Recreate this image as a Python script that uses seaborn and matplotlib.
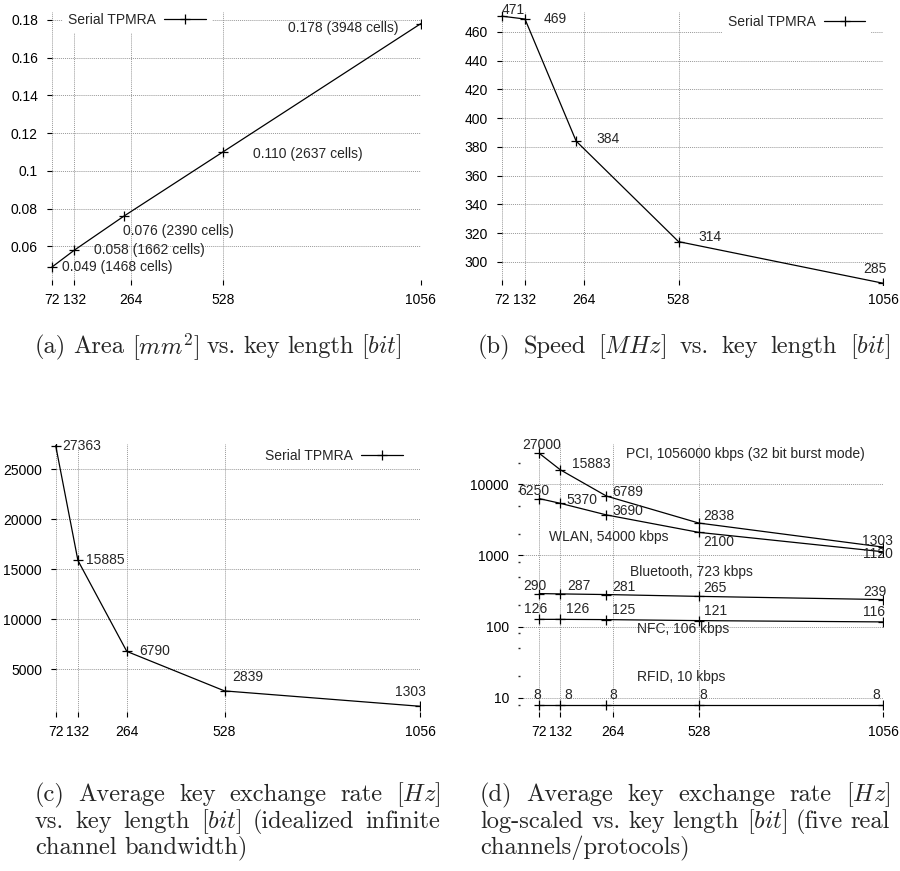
import matplotlib
matplotlib.use('Agg')
import matplotlib.pyplot as plt
import seaborn as sns
import numpy as np
from matplotlib.ticker import LogLocator, NullFormatter

key_len = [72, 132, 264, 528, 1056]
tick_lab = ['72', '132', '264', '528', '1056']
tick_pos = [72, 132, 284, 528, 1056]      # the "264" grid line is drawn off the point in a, b, d
tick_pos_c = [72, 132, 264, 528, 1056]

area = [0.049, 0.058, 0.076, 0.110, 0.178]
cells = [1468, 1662, 2390, 2637, 3948]
speed = [471, 469, 384, 314, 285]
rate = [27363, 15885, 6790, 2839, 1303]

pci = [27000, 15883, 6789, 2838, 1303]
wlan = [6250, 5370, 3690, 2100, 1120]
bluetooth = [290, 287, 281, 265, 239]
nfc = [126, 126, 125, 121, 116]
rfid = [8, 8, 8, 8, 8]
channel_names = ['PCI, 1056000 kbps (32 bit burst mode)', 'WLAN, 54000 kbps',
                 'Bluetooth, 723 kbps', 'NFC, 106 kbps', 'RFID, 10 kbps']

sns.set_style('white')
plt.rcParams['font.family'] = ['Liberation Sans', 'DejaVu Sans']
plt.rcParams['mathtext.fontset'] = 'cm'

W, H = 900, 871
FS = 10
CAP = 17.6
fig = plt.figure(figsize=(9, 8.71), dpi=100)
fig.patch.set_facecolor('white')


def add_axes(l, r, t, b):
    return fig.add_axes([l / W, 1 - b / H, (r - l) / W, (b - t) / H])


def style(ax, xticks, xlim, ylim):
    ax.set_xlim(xlim)
    ax.set_ylim(ylim)
    for s in ax.spines.values():
        s.set_visible(False)
    ax.set_xticks(xticks, tick_lab)
    ax.tick_params(direction='in', length=3.6, width=0.8, labelsize=FS, colors='black',
                   bottom=True, left=True)
    ax.tick_params(axis='x', pad=5.8)
    ax.tick_params(axis='y', pad=6.5)
    ax.grid(True, which='major', color='#999999', linestyle=(0, (1, 1)), linewidth=0.7)
    ax.set_xlabel('')
    ax.set_ylabel('')


def draw(ax, y, label=None):
    sns.lineplot(x=key_len, y=y, ax=ax, color='black', lw=0.9, marker='+', markersize=6.5,
                 markeredgecolor='black', markeredgewidth=0.9, label=label, legend=False)


def legend(ax, loc, anchor):
    ax.legend(loc=loc, bbox_to_anchor=anchor, frameon=True, fancybox=False, edgecolor='none',
              facecolor='white', framealpha=1, fontsize=FS, markerfirst=False, handlelength=3.0,
              handletextpad=0.6, borderpad=0.4, borderaxespad=0)


def label_points(ax, ys, texts, offsets, has):
    for x, y, t, (dx, dy), h in zip(key_len, ys, texts, offsets, has):
        ax.annotate(t, (x, y), xytext=(dx, dy), textcoords='offset pixels', ha=h, va='center',
                    fontsize=FS)


# (a) area
ax = add_axes(47, 420.7, 12, 285)
draw(ax, area, 'Serial TPMRA')
style(ax, tick_pos, (59.5, 1056), (0.0396, 0.1842))
ax.set_yticks([0.06, 0.08, 0.1, 0.12, 0.14, 0.16, 0.18],
              ['0.06', '0.08', '0.1', '0.12', '0.14', '0.16', '0.18'])
label_points(ax, area, ['%.3f (%d cells)' % (a, c) for a, c in zip(area, cells)],
             [(10, 0), (20, 0), (-1, -15), (30, -2), (-22, -4)],
             ['left', 'left', 'left', 'left', 'right'])
legend(ax, 'center left', (0.042, 0.9707))

# (b) speed
ax = add_axes(497, 883.3, 12, 285)
draw(ax, speed, 'Serial TPMRA')
style(ax, tick_pos, (59.9, 1056), (283.8, 473.9))
ax.set_yticks(np.arange(300, 461, 20))
label_points(ax, speed, [str(v) for v in speed],
             [(0, 6), (19, 0), (20, 2), (20, 5), (3, 14)],
             ['left', 'left', 'left', 'left', 'right'])
legend(ax, 'center right', (0.968, 0.9645))

# (c) exchange rate
ax = add_axes(51, 420, 444, 717)
draw(ax, rate, 'Serial TPMRA')
style(ax, tick_pos_c, (59.3, 1056), (230, 27530))
ax.set_yticks([5000, 10000, 15000, 20000, 25000])
label_points(ax, rate, [str(v) for v in rate],
             [(7, 0), (8, 0), (12, 0), (8, 14), (6, 14)],
             ['left', 'left', 'left', 'left', 'right'])
legend(ax, 'center right', (0.968, 0.956))

# (d) log-scaled, five channels
ax = add_axes(518, 883.3, 444, 717)
ax.set_yscale('log')
for ys in [pci, wlan, bluetooth, nfc, rfid]:
    draw(ax, ys)
style(ax, tick_pos, (11, 1056), (5.36, 36560))
ax.set_yticks([10, 100, 1000, 10000], ['10', '100', '1000', '10000'])
ax.yaxis.set_minor_locator(LogLocator(base=10, subs=(2, 5, 8)))
ax.yaxis.set_minor_formatter(NullFormatter())
ax.tick_params(axis='y', which='minor', direction='in', length=1.2, width=1, left=True)
ax.tick_params(axis='x', which='minor', bottom=False)
label_points(ax, pci, [str(v) for v in pci],
             [(-17, 8), (12, 6), (6, 4), (5, 7), (10, 6)],
             ['left', 'left', 'left', 'left', 'right'])
label_points(ax, wlan, [str(v) for v in wlan],
             [(-21, 8), (6, 3), (6, 4), (5, -10), (10, -2)],
             ['left', 'left', 'left', 'left', 'right'])
label_points(ax, bluetooth, [str(v) for v in bluetooth],
             [(-16, 8), (7, 8), (6, 8), (5, 8), (3, 8)],
             ['left', 'left', 'left', 'left', 'right'])
label_points(ax, nfc, [str(v) for v in nfc],
             [(-15, 10), (6, 10), (6, 10), (5, 10), (2, 10)],
             ['left', 'left', 'left', 'left', 'right'])
label_points(ax, rfid, [str(v) for v in rfid],
             [(-2, 10), (8, 10), (7, 10), (5, 10), (-7, 10)],
             ['center'] * 5)
for name, (tx, ty) in zip(channel_names, [(320, 26500), (100, 1807), (331, 589), (350, 92), (350, 19.7)]):
    ax.text(tx, ty, name, fontsize=FS, ha='left', va='center')

# captions
renderer = fig.canvas.get_renderer()


def caption_line(words, x0, y, x1=None):
    texts = [fig.text(0, 1 - y / H, w, family='cmr10', fontsize=CAP, va='center') for w in words]
    widths = [t.get_window_extent(renderer).width for t in texts]
    if x1 is None:
        gap = CAP * 100 / 72 * 0.3
    else:
        gap = (x1 - x0 - sum(widths)) / (len(words) - 1)
    x = x0
    for t, w in zip(texts, widths):
        t.set_x(x / W)
        x += w + gap


caption_line(['(a)', 'Area', r'$[mm^2]$', 'vs.', 'key', 'length', r'$[bit]$'], 35, 347)
caption_line(['(b)', 'Speed', r'$[MHz]$', 'vs.', 'key', 'length', r'$[bit]$'], 478, 347, 890)
caption_line(['(c)', 'Average', 'key', 'exchange', 'rate', r'$[Hz]$'], 35, 795, 440)
caption_line(['vs.', 'key', 'length', r'$[bit]$', '(idealized', 'infinite'], 35, 822, 440)
caption_line(['channel', 'bandwidth)'], 35, 848)
caption_line(['(d)', 'Average', 'key', 'exchange', 'rate', r'$[Hz]$'], 480, 795, 890)
caption_line(['log-scaled', 'vs.', 'key', 'length', r'$[bit]$', '(five', 'real'], 480, 822, 890)
caption_line(['channels/protocols)'], 480, 848)

fig.savefig('out.png', dpi=100, facecolor='white')
